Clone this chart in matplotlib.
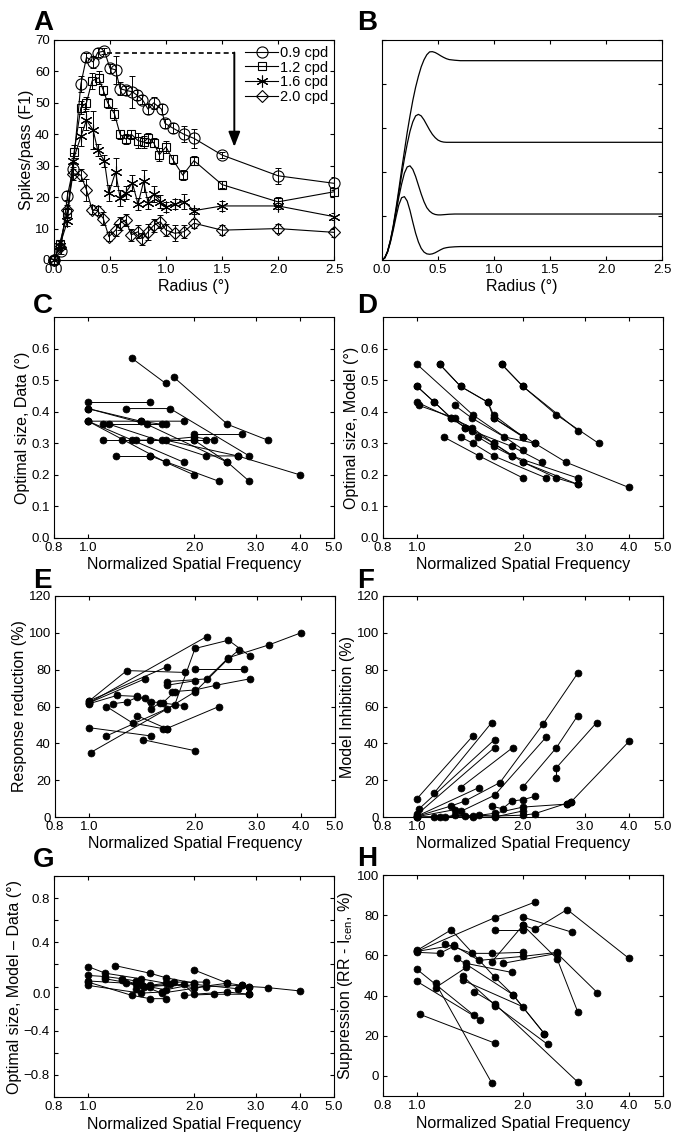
import matplotlib
matplotlib.use("Agg")
import matplotlib.pyplot as plt
import matplotlib.transforms as mtransforms
from matplotlib.ticker import FixedLocator, FixedFormatter, NullLocator

plt.rcParams['font.family'] = ['Liberation Sans', 'DejaVu Sans']
plt.rcParams['mathtext.fontset'] = 'custom'
plt.rcParams['mathtext.rm'] = 'Liberation Sans'
plt.rcParams['mathtext.it'] = 'Liberation Sans:italic'
plt.rcParams['axes.linewidth'] = 0.8

# ---------------- Panel A: size tuning at four spatial frequencies ----------------
radius_cpd09 = [0, 0.06, 0.12, 0.17, 0.24, 0.29, 0.35, 0.39, 0.45, 0.50, 0.55, 0.59, 0.64,
                0.70, 0.74, 0.79, 0.84, 0.89, 0.96, 0.99, 1.06, 1.16, 1.25, 1.50, 2.00, 2.50]
resp_cpd09 = [0, 3, 20.5, 29, 56, 64.5, 63, 66, 66.5, 61, 60.5, 54.5, 54,
              53.5, 52.5, 51, 48, 50, 48, 43.5, 42, 40, 38.7, 33.4, 26.8, 24.4]
err_cpd09 = [0, 1.0, 1.5, 2.0, 2.5, 1.5, 2.0, 1.5, 1.0, 1.5, 4.5, 2.0, 1.5,
             5.0, 1.5, 1.5, 1.5, 2.0, 1.5, 1.5, 1.5, 2.5, 3.0, 1.0, 2.5, 2.0]

radius_cpd12 = [0, 0.05, 0.12, 0.18, 0.24, 0.29, 0.34, 0.40, 0.44, 0.48, 0.54, 0.59, 0.64,
                0.69, 0.75, 0.80, 0.84, 0.89, 0.94, 1.00, 1.06, 1.15, 1.25, 1.50, 2.00, 2.50]
resp_cpd12 = [0, 5, 15, 34.5, 48.5, 50, 57, 58, 54, 50, 46.5, 40, 38.5,
              40, 38, 37.5, 38.8, 37.3, 33.5, 36, 32, 27, 31.6, 24, 18.5, 21.7]
err_cpd12 = [0, 1.0, 1.5, 2.0, 2.0, 2.0, 2.5, 2.0, 1.5, 1.5, 2.0, 1.5, 1.5,
             1.5, 2.5, 2.0, 1.5, 1.5, 2.0, 2.0, 1.5, 1.5, 1.5, 1.0, 1.5, 1.5]

radius_cpd16 = [0, 0.05, 0.12, 0.17, 0.24, 0.29, 0.35, 0.39, 0.45, 0.49, 0.55, 0.59, 0.64,
                0.70, 0.75, 0.80, 0.84, 0.89, 0.95, 1.00, 1.08, 1.16, 1.25, 1.50, 2.00, 2.50]
resp_cpd16 = [0, 4.5, 12.3, 31.6, 39.3, 44.5, 41.3, 35, 31.5, 21.4, 28, 19.8, 21.4,
              24.5, 17.8, 25, 18.2, 21, 18.6, 16.8, 17.8, 18.6, 15.7, 17.2, 17.2, 13.8]
err_cpd16 = [0, 1.0, 1.5, 2.5, 3.0, 3.0, 6.0, 2.0, 2.0, 2.5, 4.5, 2.5, 2.0,
             2.5, 2.0, 3.5, 2.0, 2.5, 2.0, 1.5, 1.5, 2.5, 1.0, 1.5, 1.0, 1.0]

radius_cpd20 = [0, 0.05, 0.12, 0.17, 0.24, 0.29, 0.34, 0.39, 0.44, 0.49, 0.55, 0.59, 0.64,
                0.69, 0.75, 0.79, 0.84, 0.89, 0.95, 1.00, 1.08, 1.16, 1.25, 1.50, 2.00, 2.50]
resp_cpd20 = [0, 4.2, 16, 27.5, 27, 22.3, 16, 15.7, 13.2, 7.4, 9.5, 11.7, 12.7,
              8, 9, 6.7, 9, 11, 12.2, 9.5, 8.5, 9, 11.7, 9.5, 10, 8.8]
err_cpd20 = [0, 1.0, 1.5, 2.0, 2.0, 3.5, 1.5, 1.5, 2.0, 1.5, 2.0, 2.0, 2.0,
             2.0, 2.0, 2.0, 2.5, 2.0, 2.0, 2.0, 2.5, 2.0, 1.5, 1.5, 1.5, 1.5]

sf_labels = ['0.9 cpd', '1.2 cpd', '1.6 cpd', '2.0 cpd']
peak_radius, peak_resp = 0.47, 66.0
arrow_radius, arrow_tip = 1.61, 36.0

# ---------------- Panel B: model size tuning curves ----------------
model_radius = [0.0, 0.025, 0.05, 0.075, 0.1, 0.125, 0.15, 0.175, 0.2, 0.225, 0.25, 0.275,
                0.3, 0.325, 0.35, 0.375, 0.4, 0.425, 0.45, 0.475, 0.5, 0.525, 0.55, 0.575,
                0.6, 0.65, 0.7, 0.8, 2.5]
model_cpd09 = [0.0, 0.010, 0.040, 0.090, 0.155, 0.235, 0.320, 0.410, 0.495, 0.580, 0.655, 0.725,
               0.785, 0.835, 0.878, 0.910, 0.933, 0.946, 0.947, 0.943, 0.936, 0.928, 0.921, 0.915,
               0.911, 0.908, 0.906, 0.906, 0.906]
model_cpd12 = [0.0, 0.010, 0.040, 0.088, 0.150, 0.225, 0.305, 0.385, 0.460, 0.527, 0.585, 0.628,
               0.655, 0.662, 0.655, 0.637, 0.614, 0.591, 0.571, 0.556, 0.545, 0.539, 0.536, 0.535,
               0.535, 0.535, 0.535, 0.535, 0.535]
model_cpd16 = [0.0, 0.010, 0.038, 0.085, 0.145, 0.215, 0.285, 0.345, 0.395, 0.423, 0.428, 0.412,
               0.380, 0.340, 0.300, 0.265, 0.238, 0.222, 0.212, 0.207, 0.205, 0.205, 0.206, 0.207,
               0.208, 0.209, 0.209, 0.209, 0.209]
model_cpd20 = [0.0, 0.010, 0.036, 0.080, 0.135, 0.195, 0.250, 0.283, 0.288, 0.268, 0.225, 0.172,
               0.122, 0.082, 0.053, 0.036, 0.028, 0.026, 0.028, 0.033, 0.040, 0.047, 0.053, 0.056,
               0.058, 0.060, 0.061, 0.061, 0.061]

# ---------------- Panels C-H: per-cell measurements across spatial frequency ----------------
c_sf = [[1.33, 1.66], [1.75, 2.49, 3.24], [1.00, 1.50], [1.28, 1.71, 2.87], [1.00, 1.41, 1.87],
        [1.00, 1.47, 2.49], [1.00, 1.41, 1.62], [1.10, 1.66], [1.15, 2.16, 2.66],
        [1.10, 1.37, 2.00], [1.25, 1.50, 2.16], [1.33, 1.62, 2.00, 2.28], [1.00, 1.66, 2.00],
        [1.00, 1.87], [1.20, 1.50], [1.50, 2.35], [2.00, 2.74], [2.00, 2.49, 2.87],
        [1.66, 2.66, 4.00]]
c_size = [[0.57, 0.49], [0.51, 0.36, 0.31], [0.43, 0.43], [0.41, 0.41, 0.26], [0.41, 0.37, 0.37],
          [0.41, 0.36, 0.24], [0.37, 0.37, 0.36], [0.36, 0.36], [0.36, 0.26, 0.26],
          [0.31, 0.31, 0.31], [0.31, 0.31, 0.31], [0.31, 0.31, 0.32, 0.31], [0.37, 0.24, 0.20],
          [0.37, 0.24], [0.26, 0.26], [0.26, 0.18], [0.33, 0.33], [0.31, 0.24, 0.18],
          [0.31, 0.26, 0.20]]

d_sf = [[1.00, 1.44, 2.00], [1.16, 1.33, 1.59, 1.65, 2.00], [1.16, 1.33, 1.59, 1.65, 2.16],
        [1.74, 2.00, 2.49, 3.28], [1.74, 2.00, 2.87], [1.00, 1.12, 1.25, 1.37, 1.49, 1.65, 1.86],
        [1.00, 1.12, 1.25, 1.37, 1.65, 2.00, 2.86], [1.00, 1.43, 1.65, 1.86, 2.86],
        [1.01, 1.28, 1.43, 1.86, 2.27], [1.19, 1.50, 2.00], [1.33, 1.44, 1.65, 2.33],
        [1.28, 1.43, 1.77, 2.16, 2.65, 4.00], [2.00, 2.49, 2.86], [1.65, 2.00]]
d_size = [[0.55, 0.39, 0.28], [0.55, 0.48, 0.43, 0.39, 0.32], [0.55, 0.48, 0.43, 0.38, 0.30],
          [0.55, 0.48, 0.39, 0.30], [0.55, 0.48, 0.34], [0.48, 0.43, 0.38, 0.35, 0.32, 0.29, 0.26],
          [0.48, 0.43, 0.38, 0.35, 0.30, 0.24, 0.17], [0.43, 0.35, 0.30, 0.26, 0.19],
          [0.42, 0.38, 0.34, 0.29, 0.24], [0.32, 0.26, 0.19], [0.32, 0.30, 0.26, 0.19],
          [0.42, 0.38, 0.32, 0.30, 0.24, 0.16], [0.24, 0.19, 0.17], [0.38, 0.32]]

e_sf = [[1.00, 1.28, 1.87], [1.00, 1.66], [1.00, 2.16], [1.00, 1.44],
        [1.00, 1.20, 1.37, 1.50, 1.62, 1.75], [1.00, 1.50], [1.01, 1.66, 2.00, 2.49, 2.66],
        [1.12, 1.33, 1.62], [1.42, 2.00], [1.37, 1.66], [1.12, 1.75, 2.00, 2.49, 2.86],
        [2.00, 2.75], [1.66, 2.16, 2.49, 3.25, 4.00], [1.66, 2.00], [1.72, 2.00, 2.29, 2.86],
        [1.66, 2.34], [1.17, 1.28, 1.37, 1.44, 1.50, 1.59, 1.86]]
e_reduction = [[63, 79.5, 78.5], [63, 81.5], [62, 98], [62, 75],
               [61.5, 66, 65.5, 62.5, 62, 68], [48.5, 44], [35, 58.5, 68, 86, 90.5],
               [60, 51, 48], [42, 36], [55, 48], [44, 60.7, 91.5, 96, 87.5],
               [80.5, 80.5], [73.5, 75, 86.5, 93.5, 100], [71.5, 74], [68, 69, 71.5, 75],
               [48, 60], [61.5, 62.5, 65, 64.5, 58.8, 62, 60.5]]

f_sf = [[1.00, 1.44], [1.01, 1.66], [1.12, 1.63], [1.00, 1.66], [1.00, 1.50], [1.33, 1.87],
        [1.00, 1.25, 1.37, 1.72, 2.28, 2.86], [1.00, 1.28, 1.33, 1.66, 2.33],
        [2.00, 2.49, 2.86], [2.49, 2.49, 3.24], [2.66, 2.74, 4.00],
        [1.63, 1.75, 1.86, 2.00, 2.16], [1.12, 1.16, 1.20, 1.28, 1.44, 1.66, 2.00, 2.66],
        [1.00, 1.37, 1.50, 1.66, 2.00, 2.16, 2.74], [1.00, 1.44, 1.66, 2.00]]
f_inhibition = [[10, 44], [4.2, 42], [13.2, 51.3], [1.4, 37.7], [0.5, 16], [16, 37.7],
                [0.4, 6, 8.7, 18.7, 50.4, 78], [0.2, 4, 3, 11.8, 43.5],
                [16.3, 37.7, 55], [21.4, 26.8, 51.3], [6.9, 8.2, 41],
                [5.8, 4.5, 8.7, 9.4, 11.2], [0, 0, 0, 1, 0.5, 2, 5.4, 7],
                [0, 0.5, 1, 0.5, 1, 1.8, 8.2], [0, 0, 0, 3.3]]

g_sf = [[1.00, 1.12, 1.41, 1.66], [1.19, 1.50, 1.66, 2.00], [2.00, 2.49, 2.74],
        [1.00, 1.12, 1.25, 1.37, 1.50, 1.75, 2.16], [1.00, 1.33, 1.50, 1.66],
        [1.00, 1.41, 1.62], [2.87, 3.24, 4.00], [1.87, 2.28, 2.87],
        [1.00, 1.28, 1.44, 1.71, 2.00, 2.49], [1.12, 1.37, 1.66, 2.00, 2.66],
        [1.25, 1.42, 1.62, 2.16, 2.74, 2.87], [1.37, 1.50, 1.87, 2.00, 2.49, 2.87]]
g_diff = [[0.18, 0.12, 0.07, 0.03], [0.19, 0.12, 0.08, 0.03], [0.15, 0.03, 0.01],
          [0.10, 0.09, 0.07, 0.05, 0.01, 0.04, 0.04], [0.04, -0.08, -0.11, -0.11],
          [0.01, -0.06, -0.05], [0.00, -0.01, -0.04], [-0.08, -0.07, -0.07],
          [0.05, 0.03, 0.00, 0.02, -0.01, 0.03], [0.07, 0.02, -0.03, 0.02, -0.02],
          [0.06, 0.01, -0.06, 0.00, 0.01, 0.00], [-0.02, 0.00, 0.02, -0.07, -0.05, -0.07]]

h_sf = [[1.00, 1.25, 1.66, 1.87, 2.30], [1.00, 1.66, 2.16], [1.00, 1.16, 1.27],
        [1.20, 1.43, 1.63, 2.00], [1.66, 2.00], [2.00, 2.16, 2.67, 4.00], [2.00, 2.76],
        [1.63, 2.00, 2.50, 2.86], [1.75, 2.50, 3.25], [1.00, 1.45], [1.00, 1.51],
        [1.02, 1.67], [1.13, 1.63], [1.13, 1.38], [1.38, 1.86], [1.30, 1.87, 2.30],
        [1.35, 1.67, 2.35], [1.35, 2.00], [1.45, 1.66, 2.86], [1.00, 1.27, 1.50, 2.00, 2.50]]
h_suppression = [[62.5, 72.7, 49.3, 40.5, 21], [62, 78.7, 86.5], [61.5, 61, 64.5],
                 [65.8, 61, 61, 61.5], [72.7, 72.7], [75, 73, 82.8, 58.5], [79, 71.5],
                 [56.7, 75, 58.3, 32], [56, 61, 41.5], [53, 30.2], [47, 28],
                 [30.6, 16.2], [46, -3.5], [44, 54], [56, 51.5], [58.5, 40.5, 21],
                 [49.6, 35, 15.7], [47.6, 34.4], [42, 36, -3], [62, 65, 57.5, 59.5, 61.5]]

sf_ticks = [0.8, 1.0, 2.0, 3.0, 4.0, 5.0]
sf_ticklabels = ['0.8', '1.0', '2.0', '3.0', '4.0', '5.0']

# ---------------- layout ----------------
W, H = 685, 1136
fig = plt.figure(figsize=(W / 100, H / 100), dpi=100)


def panel(left, top, right, bottom):
    return fig.add_axes([left / W, 1 - bottom / H, (right - left) / W, (bottom - top) / H])


def style(ax):
    ax.tick_params(direction='in', top=True, right=True, length=3.2, width=0.8,
                   labelsize=9.5, pad=3)
    for s in ax.spines.values():
        s.set_linewidth(0.8)


def sf_axis(ax):
    ax.set_xscale('log')
    ax.set_xlim(0.8, 5.0)
    ax.xaxis.set_major_locator(FixedLocator(sf_ticks))
    ax.xaxis.set_major_formatter(FixedFormatter(sf_ticklabels))
    ax.xaxis.set_minor_locator(NullLocator())
    ax.set_xlabel('Normalized Spatial Frequency', fontsize=11.5, labelpad=2)


def chains(ax, xs_list, ys_list):
    for xs, ys in zip(xs_list, ys_list):
        ax.plot(xs, ys, '-', color='k', lw=0.7, marker='o', ms=5.0,
                mfc='k', mec='k', mew=0.5, clip_on=False)


# Panel A
axA = panel(54, 40, 334, 260)
style(axA)
series = [(radius_cpd09, resp_cpd09, err_cpd09, 'o', 8.0),
          (radius_cpd12, resp_cpd12, err_cpd12, 's', 6.0),
          (radius_cpd16, resp_cpd16, err_cpd16, (6, 2, 0), 8.5),
          (radius_cpd20, resp_cpd20, err_cpd20, 'D', 6.5)]
handles = []
for (rx, ry, re, mk, ms), lab in zip(series, sf_labels):
    axA.errorbar(rx, ry, yerr=re, fmt='none', ecolor='k', elinewidth=0.7,
                 capsize=2.5, capthick=0.7)
    ln, = axA.plot(rx, ry, '-', color='k', lw=0.8, marker=mk, ms=ms, mfc='none',
                   mec='k', mew=0.8, label=lab, clip_on=False)
    handles.append(ln)
axA.plot([peak_radius, arrow_radius], [peak_resp, peak_resp], '--', color='k', lw=1.2,
         dashes=(3, 2))
axA.annotate('', xy=(arrow_radius, arrow_tip), xytext=(arrow_radius, peak_resp),
             arrowprops=dict(arrowstyle='-|>,head_length=0.9,head_width=0.35',
                             color='k', lw=1.4, shrinkA=0, shrinkB=0))
axA.set_xlim(0, 2.5)
axA.set_ylim(0, 70)
axA.set_xticks([0, 0.5, 1.0, 1.5, 2.0, 2.5])
axA.set_xticklabels(['0.0', '0.5', '1.0', '1.5', '2.0', '2.5'])
axA.set_yticks(range(0, 71, 10))
axA.set_xlabel('Radius (°)', fontsize=11.5, labelpad=2)
axA.set_ylabel('Spikes/pass (F1)', fontsize=11.5, labelpad=1)
axA.legend(handles=handles, loc='upper right', frameon=False, fontsize=10.5,
           handlelength=2.3, handletextpad=0.1, labelspacing=0.05,
           borderaxespad=0.2, borderpad=0.2)

# Panel B
axB = panel(382, 40, 662, 260)
style(axB)
for curve in (model_cpd09, model_cpd12, model_cpd16, model_cpd20):
    axB.plot(model_radius, curve, color='k', lw=0.9)
axB.set_xlim(0, 2.5)
axB.set_ylim(0, 1)
axB.set_xticks([0, 0.5, 1.0, 1.5, 2.0, 2.5])
axB.set_xticklabels(['0.0', '0.5', '1.0', '1.5', '2.0', '2.5'])
axB.set_yticks([0, 0.2, 0.4, 0.6, 0.8, 1.0])
axB.set_yticklabels([])
axB.set_xlabel('Radius (°)', fontsize=11.5, labelpad=2)

# Panel C
axC = panel(54, 317, 334, 538)
style(axC)
chains(axC, c_sf, c_size)
sf_axis(axC)
axC.set_ylim(0, 0.7)
axC.set_yticks([0, 0.1, 0.2, 0.3, 0.4, 0.5, 0.6])
axC.set_yticklabels(['0.0', '0.1', '0.2', '0.3', '0.4', '0.5', '0.6'])
axC.set_ylabel('Optimal size, Data (°)', fontsize=11.5, labelpad=1)

# Panel D
axD = panel(383, 317, 663, 538)
style(axD)
chains(axD, d_sf, d_size)
sf_axis(axD)
axD.set_ylim(0, 0.7)
axD.set_yticks([0, 0.1, 0.2, 0.3, 0.4, 0.5, 0.6])
axD.set_yticklabels(['0.0', '0.1', '0.2', '0.3', '0.4', '0.5', '0.6'])
axD.set_ylabel('Optimal size, Model (°)', fontsize=11.5, labelpad=1)

# Panel E
axE = panel(55, 596, 335, 817)
style(axE)
chains(axE, e_sf, e_reduction)
sf_axis(axE)
axE.set_ylim(0, 120)
axE.set_yticks(range(0, 121, 20))
axE.set_ylabel('Response reduction (%)', fontsize=11.5, labelpad=1)

# Panel F
axF = panel(383, 596, 663, 817)
style(axF)
chains(axF, f_sf, f_inhibition)
sf_axis(axF)
axF.set_ylim(0, 120)
axF.set_yticks(range(0, 121, 20))
axF.set_ylabel('Model Inhibition (%)', fontsize=11.5, labelpad=1)

# Panel G
axG = panel(54, 876, 334, 1097)
style(axG)
chains(axG, g_sf, g_diff)
sf_axis(axG)
axG.set_xlabel('Normalized Spatial Frequency', fontsize=11.5, labelpad=3)
axG.set_ylim(-1.0, 1.0)
g_ticks = [-1.0, -0.8, -0.6, -0.4, -0.2, 0.0, 0.2, 0.4, 0.6, 0.8, 1.0]
g_labels = ['', '\u22120.8', '', '\u22120.4', '', '', '', '0.4', '', '0.8', '']
axG.set_yticks(g_ticks)
axG.set_yticklabels(g_labels)
# the zero label sits slightly below its tick
zero_tr = mtransforms.blended_transform_factory(axG.transAxes, axG.transData)
axG.text(-0.011, -0.08, '0.0', transform=zero_tr, ha='right', va='center', fontsize=9.5)
axG.set_ylabel('Optimal size, Model \u2013 Data (°)', fontsize=11.5, labelpad=1)

# Panel H
axH = panel(383, 875, 663, 1096)
style(axH)
chains(axH, h_sf, h_suppression)
sf_axis(axH)
axH.set_xlabel('Normalized Spatial Frequency', fontsize=11.5, labelpad=3)
axH.set_ylim(-10, 100)
axH.set_yticks(range(0, 101, 20))
axH.set_ylabel(r'Suppression (RR - I$_{\mathrm{cen}}$, %)', fontsize=11.5, labelpad=1)

# panel letters
letters = [('A', 33, 30), ('B', 357, 30), ('C', 33, 313), ('D', 357, 313),
           ('E', 33, 588), ('F', 357, 588), ('G', 33, 867), ('H', 357, 866)]
for letter, lx, ly in letters:
    fig.text(lx / W, 1 - ly / H, letter, fontsize=20, fontweight='bold',
             ha='left', va='baseline')

fig.savefig('out.png', dpi=100)
